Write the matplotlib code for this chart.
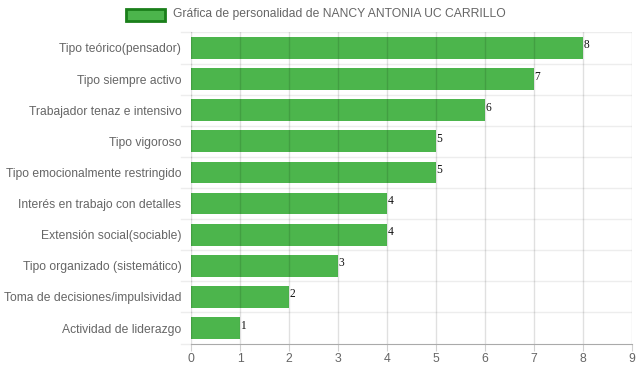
import matplotlib
matplotlib.use("Agg")
import matplotlib.pyplot as plt
from matplotlib.patches import Rectangle

categories = ["Tipo teórico(pensador)", "Tipo siempre activo", "Trabajador tenaz e intensivo",
              "Tipo vigoroso", "Tipo emocionalmente restringido", "Interés en trabajo con detalles",
              "Extensión social(sociable)", "Tipo organizado (sistemático)",
              "Toma de decisiones/impulsividad", "Actividad de liderazgo"]
values = [8, 7, 6, 5, 5, 4, 4, 3, 2, 1]
x_ticks = [0, 1, 2, 3, 4, 5, 6, 7, 8, 9]
legend_label = "Gráfica de personalidad de NANCY ANTONIA UC CARRILLO"

plt.rcParams['font.family'] = ['Liberation Sans', 'DejaVu Sans']

fig = plt.figure(figsize=(6.39, 3.72), dpi=100)
ax = fig.add_axes([191/639, 1-343.6/372, (632-191)/639, (343.6-32.4)/372])

n = len(categories)
ypos = list(range(n))
ax.barh(ypos, values, height=0.7, color='#4cb54c', zorder=2)
ax.set_ylim(n-0.5, -0.5)
ax.set_xlim(0, 9)

for i, v in enumerate(values):
    ax.text(v + 0.01, i - 0.08, str(v), family='Liberation Serif', fontsize=8.3,
            color='#111111', ha='left', va='center', zorder=4)

# vertical grid lines (drawn on top, semi transparent)
for t in x_ticks:
    ax.axvline(t, color='#000000', alpha=0.12, lw=1, zorder=3)
# horizontal band boundaries
for b in range(n):
    ax.axhline(b - 0.5, color='#000000', alpha=0.07, lw=1, zorder=1)

ax.set_xticks(x_ticks)
ax.set_xticklabels([str(t) for t in x_ticks])
ax.set_yticks(ypos)
ax.set_yticklabels(categories)
ax.tick_params(axis='y', length=0, labelsize=8.7, labelcolor='#666666', pad=7)
ax.tick_params(axis='x', length=5, color='#d0d0d0', labelsize=8.8, labelcolor='#666666', pad=2)

# y tick marks at band boundaries extending left
for b in range(n + 1):
    ax.plot([-10/49, 0], [b - 0.5, b - 0.5], color='#000000', alpha=0.07, lw=1,
            clip_on=False, zorder=1)

for s in ['top', 'right', 'left']:
    ax.spines[s].set_visible(False)
ax.spines['bottom'].set_color('#aaaaaa')
ax.spines['bottom'].set_zorder(3)

# legend
fig.patches.append(Rectangle((126/639, 1-20.5/372), 39/639, 12/372, transform=fig.transFigure,
                             facecolor='#4cb54c', edgecolor='#1a7f1a', lw=2, figure=fig))
fig.text(173/639, 1-14/372, legend_label, fontsize=8.75, color='#666666', ha='left', va='center')

fig.savefig('out.png', dpi=100)
